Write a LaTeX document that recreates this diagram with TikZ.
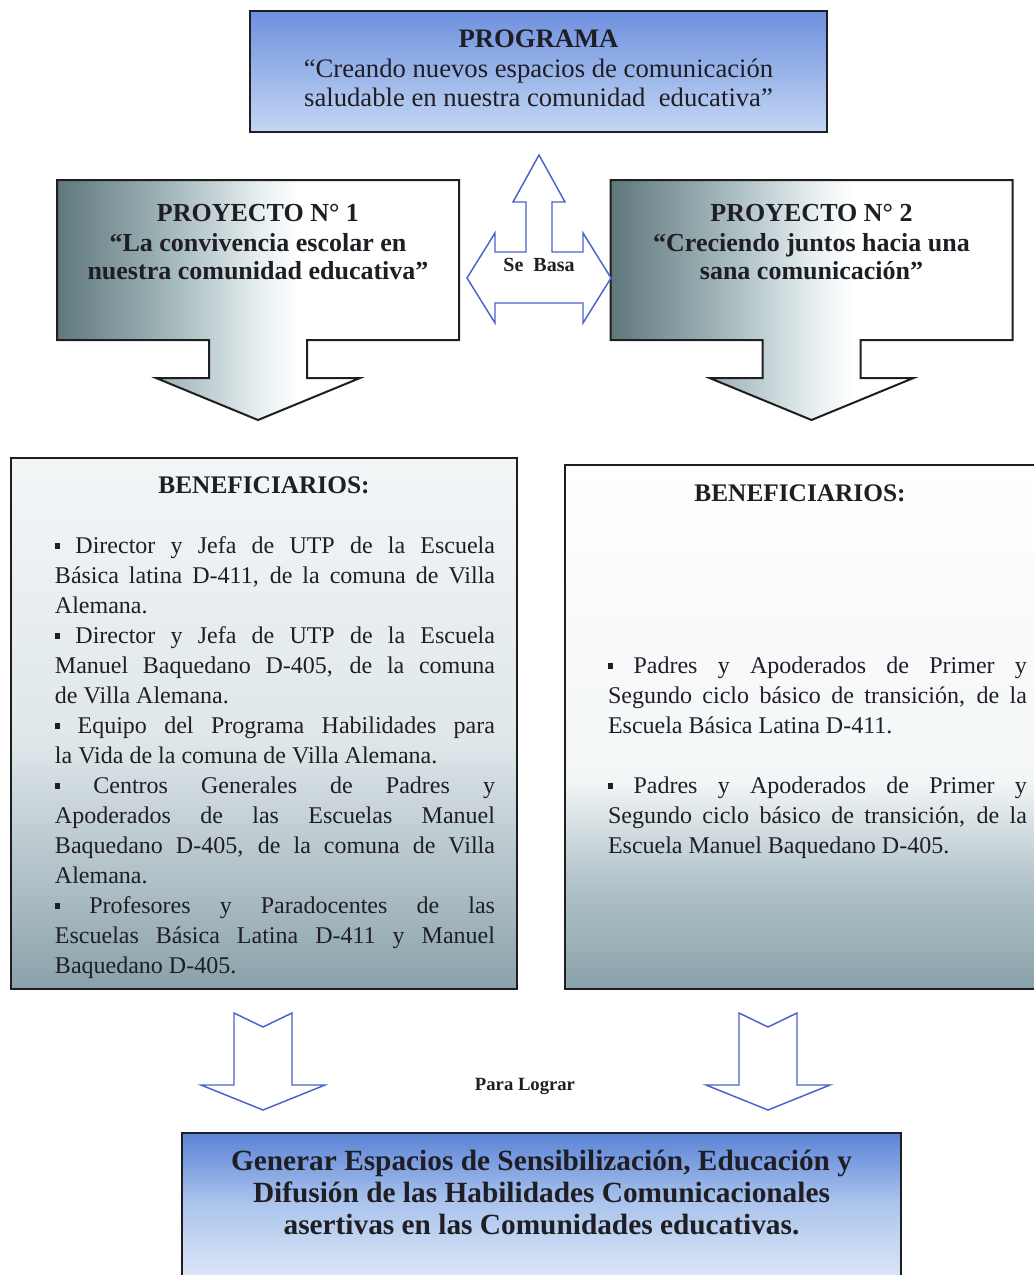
\documentclass[tikz,border=0pt]{standalone}
\usepackage{fontspec}
\setmainfont{Liberation Serif}
\newlength\pxu \setlength\pxu{0.75pt}
\definecolor{progtop}{HTML}{6E90DE}
\definecolor{progbot}{HTML}{C4D7F3}
\definecolor{projdark}{HTML}{5E777B}
\definecolor{projmid}{HTML}{A9BCC0}
\definecolor{projlight}{HTML}{E6EEF0}
\definecolor{benlight}{HTML}{F3F6F7}
\definecolor{benmid}{HTML}{DFE7EA}
\definecolor{bendark}{HTML}{8AA1AA}
\definecolor{benrmid}{HTML}{B3C4CA}
\definecolor{goaltop}{HTML}{5A82D6}
\definecolor{goalmid}{HTML}{A9C3EC}
\definecolor{goalbot}{HTML}{E4EDF8}
\definecolor{arrowblue}{HTML}{4A63C8}
\definecolor{ink}{HTML}{1E1E24}
\newcommand\bul{\raisebox{0.17em}{\rule{0.22em}{0.25em}}}
\newcommand\jline[2]{\makebox[#1\pxu][s]{#2}}
\newcommand\bodyfont{\fontsize{18}{22.5}\selectfont}
\newcommand\projfont{\bfseries\fontsize{19.5}{23}\selectfont}
\newcommand\projcallout{%
  \begin{scope}
    \clip (57,180) -- (459,180) -- (459,340) -- (307,340) -- (307,378) -- (360,378)
      -- (258,420) -- (156,378) -- (209,378) -- (209,340) -- (57,340) -- cycle;
    \shade[left color=projdark, right color=projmid] (56,179) rectangle (178,421);
    \shade[left color=projmid, right color=projlight] (177.5,179) rectangle (259,421);
    \shade[left color=projlight, right color=white] (258.5,179) rectangle (300,421);
    \fill[white] (299.5,179) rectangle (461,421);
  \end{scope}
  \draw[boxline] (57,180) -- (459,180) -- (459,340) -- (307,340) -- (307,378) -- (360,378)
      -- (258,420) -- (156,378) -- (209,378) -- (209,340) -- (57,340) -- cycle;
}
\tikzset{
  boxline/.style={draw=black!88, line width=1.5pt, line join=miter},
  bluearrow/.style={draw=arrowblue, line width=1.1pt, fill=white, line join=miter},
  txt/.style={inner sep=0pt, outer sep=0pt, text=ink},
}
\begin{document}
\begin{tikzpicture}[x=0.75pt,y=-0.75pt]
\useasboundingbox (0,0) rectangle (1034,1275);
\clip (0,0) rectangle (1034,1275);

% ---------- PROGRAMA ----------
\shade[top color=progtop, bottom color=progbot] (250,11) rectangle (827,132);
\draw[boxline] (250,11) rectangle (827,132);
\node[txt, anchor=base, font=\bfseries\fontsize{20}{24}\selectfont] (progtitle) at (538.5,47) {PROGRAMA};
\node[txt, anchor=base, font=\fontsize{20}{24}\selectfont] (progl1) at (538.5,77) {“Creando nuevos espacios de comunicación};
\node[txt, anchor=base, font=\fontsize{20}{24}\selectfont] (progl2) at (538.5,106) {saludable en nuestra comunidad\ \ educativa”};

% ---------- PROYECTOS ----------
\projcallout
\begin{scope}[shift={(553.5,0)}]
  \projcallout
\end{scope}
\node[txt, anchor=base, font=\projfont] (p1a) at (258,221) {PROYECTO N° 1};
\node[txt, anchor=base, font=\projfont] (p1b) at (258,251) {“La convivencia escolar en};
\node[txt, anchor=base, font=\projfont] (p1c) at (258,279) {nuestra comunidad educativa”};
\node[txt, anchor=base, font=\projfont] (p2a) at (811.5,221) {PROYECTO N° 2};
\node[txt, anchor=base, font=\projfont] (p2b) at (811.5,251) {“Creciendo juntos hacia una};
\node[txt, anchor=base, font=\projfont] (p2c) at (811.5,279) {sana comunicación”};

% ---------- Se Basa arrow ----------
\draw[bluearrow] (539,155) -- (565,202) -- (552,202) -- (552,252) -- (583,252) -- (583,233)
  -- (611,278) -- (583,323) -- (583,303) -- (495,303) -- (495,323) -- (467,278)
  -- (495,233) -- (495,252) -- (526,252) -- (526,202) -- (513,202) -- cycle;
\node[txt, anchor=base, font=\bfseries\fontsize{15}{18}\selectfont] (sebasa) at (539,271) {Se\ \ Basa};

% ---------- BENEFICIARIOS izquierda ----------
\begin{scope}
  \clip (11,458) rectangle (517,989);
  \shade[top color=benlight, bottom color=benmid] (10,457) rectangle (518,741);
  \shade[top color=benmid, bottom color=bendark] (10,740) rectangle (518,990);
\end{scope}
\draw[boxline] (11,458) rectangle (517,989);
\node[txt, anchor=base, font=\bfseries\fontsize{19}{23}\selectfont] (benLh) at (264,493) {BENEFICIARIOS:};
\node[txt, anchor=base west, font=\bodyfont] (L1) at (55,553) {\jline{440}{\bul\ Director y Jefa de UTP de la Escuela}};
\node[txt, anchor=base west, font=\bodyfont] (L2) at (55,583) {\jline{440}{Básica latina D-411, de la comuna de Villa}};
\node[txt, anchor=base west, font=\bodyfont] (L3) at (55,613) {Alemana.};
\node[txt, anchor=base west, font=\bodyfont] (L4) at (55,643) {\jline{440}{\bul\ Director y Jefa de UTP de la Escuela}};
\node[txt, anchor=base west, font=\bodyfont] (L5) at (55,673) {\jline{440}{Manuel Baquedano D-405, de la comuna}};
\node[txt, anchor=base west, font=\bodyfont] (L6) at (55,703) {de Villa Alemana.};
\node[txt, anchor=base west, font=\bodyfont] (L7) at (55,733) {\jline{440}{\bul\ Equipo del Programa Habilidades para}};
\node[txt, anchor=base west, font=\bodyfont] (L8) at (55,763) {la Vida de la comuna de Villa Alemana.};
\node[txt, anchor=base west, font=\bodyfont] (L9) at (55,793) {\jline{440}{\bul\ Centros Generales de Padres y}};
\node[txt, anchor=base west, font=\bodyfont] (L10) at (55,823) {\jline{440}{Apoderados de las Escuelas Manuel}};
\node[txt, anchor=base west, font=\bodyfont] (L11) at (55,853) {\jline{440}{Baquedano D-405, de la comuna de Villa}};
\node[txt, anchor=base west, font=\bodyfont] (L12) at (55,883) {Alemana.};
\node[txt, anchor=base west, font=\bodyfont] (L13) at (55,913) {\jline{440}{\bul\ Profesores y Paradocentes de las}};
\node[txt, anchor=base west, font=\bodyfont] (L14) at (55,943) {\jline{440}{Escuelas Básica Latina D-411 y Manuel}};
\node[txt, anchor=base west, font=\bodyfont] (L15) at (55,973) {Baquedano D-405.};

% ---------- BENEFICIARIOS derecha ----------
\begin{scope}
  \clip (565,465) rectangle (1040,989);
  \shade[top color=white, bottom color=benlight] (564,464) rectangle (1041,781);
  \shade[top color=benlight, bottom color=benrmid] (564,780) rectangle (1041,881);
  \shade[top color=benrmid, bottom color=bendark] (564,880) rectangle (1041,990);
\end{scope}
\draw[boxline] (1040,465) -- (565,465) -- (565,989) -- (1040,989);
\node[txt, anchor=base, font=\bfseries\fontsize{19}{23}\selectfont] (benRh) at (800,501) {BENEFICIARIOS:};
\node[txt, anchor=base west, font=\bodyfont] (R1) at (608,673) {\jline{419}{\bul\ Padres y Apoderados de Primer y}};
\node[txt, anchor=base west, font=\bodyfont] (R2) at (608,703) {\jline{419}{Segundo ciclo básico de transición, de la}};
\node[txt, anchor=base west, font=\bodyfont] (R3) at (608,733) {Escuela Básica Latina D-411.};
\node[txt, anchor=base west, font=\bodyfont] (R4) at (608,793) {\jline{419}{\bul\ Padres y Apoderados de Primer y}};
\node[txt, anchor=base west, font=\bodyfont] (R5) at (608,823) {\jline{419}{Segundo ciclo básico de transición, de la}};
\node[txt, anchor=base west, font=\bodyfont] (R6) at (608,853) {Escuela Manuel Baquedano D-405.};

% ---------- Para Lograr arrows ----------
\draw[bluearrow] (234,1013) -- (263,1027) -- (292,1013) -- (292,1085) -- (325,1085)
  -- (263,1110) -- (201,1085) -- (234,1085) -- cycle;
\draw[bluearrow] (739,1013) -- (768,1027) -- (797,1013) -- (797,1085) -- (830,1085)
  -- (768,1110) -- (706,1085) -- (739,1085) -- cycle;
\node[txt, anchor=base, font=\bfseries\fontsize{14}{17}\selectfont] (paralograr) at (525,1090) {Para Lograr};

% ---------- Objetivo ----------
\begin{scope}
  \clip (182,1133) rectangle (901,1290);
  \shade[top color=goaltop, bottom color=goalmid] (181,1132) rectangle (902,1201);
  \shade[top color=goalmid, bottom color=goalbot] (181,1200) rectangle (902,1291);
\end{scope}
\draw[boxline] (182,1290) -- (182,1133) -- (901,1133) -- (901,1290);
\node[txt, anchor=base, font=\bfseries\fontsize{22}{26}\selectfont] (g1) at (541.5,1170) {Generar Espacios de Sensibilización, Educación y};
\node[txt, anchor=base, font=\bfseries\fontsize{22}{26}\selectfont] (g2) at (541.5,1202) {Difusión de las Habilidades Comunicacionales};
\node[txt, anchor=base, font=\bfseries\fontsize{22}{26}\selectfont] (g3) at (541.5,1234) {asertivas en las Comunidades educativas.};
\end{tikzpicture}
\end{document}
